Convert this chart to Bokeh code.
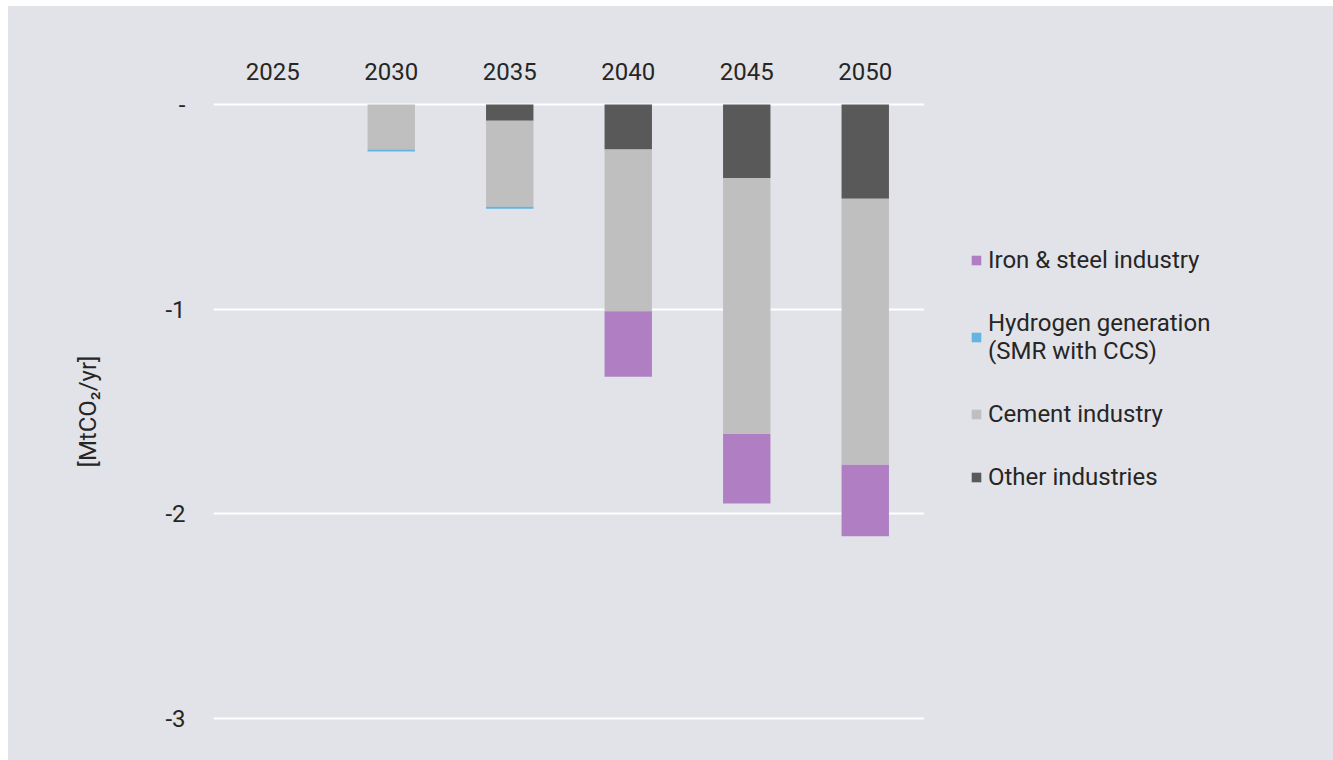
from bokeh.plotting import figure
from bokeh.layouts import column, row
from bokeh.models import FixedTicker, Legend, LegendItem, Range1d, ColumnDataSource, Spacer
from bokeh.embed import file_html
from bokeh.resources import INLINE

# ---- data ----
years = ["2025", "2030", "2035", "2040", "2045", "2050"]
other_industries = [0, 0, -0.08, -0.22, -0.36, -0.46]
cement_industry = [0, -0.22, -0.42, -0.79, -1.25, -1.30]
hydrogen_generation = [0, -0.01, -0.01, 0, 0, 0]
iron_steel_industry = [0, 0, 0, -0.32, -0.34, -0.35]
series_labels = ["Other industries", "Cement industry",
                 "Hydrogen generation\n(SMR with CCS)", "Iron & steel industry"]
y_ticks = [0, -1, -2, -3]
y_tick_labels = ["-", "-1", "-2", "-3"]
y_title = "[MtCO\u2082/yr]"

# ---- style ----
BG = "#e2e3e8"
TXT = "#262626"
FONT = "Roboto"
FS = "24px"
colors = ["#595959", "#bfbfbf", "#63b4e0", "#b07fc3"]
keys = ["other", "cement", "hydrogen", "iron"]

src = ColumnDataSource(dict(years=years, other=other_industries, cement=cement_industry,
                            hydrogen=hydrogen_generation, iron=iron_steel_industry))

# ---- main chart ----
fig = figure(x_range=years, y_range=Range1d(-3.0195, 0.0195),
             width=916, height=754, output_backend="svg", toolbar_location=None,
             x_axis_location="above",
             min_border_left=205, min_border_right=0, min_border_top=94, min_border_bottom=38,
             background_fill_color=BG, border_fill_color=BG, outline_line_color=None,
             styles={"background-color": BG})

rs = fig.vbar_stack(keys, x="years", width=0.4, color=colors, line_color=None, source=src)

fig.xgrid.visible = False
fig.ygrid.ticker = FixedTicker(ticks=y_ticks)
fig.ygrid.grid_line_color = "white"
fig.ygrid.grid_line_width = 2

xa = fig.xaxis[0]
xa.axis_line_color = None
xa.major_tick_line_color = None
xa.minor_tick_line_color = None
xa.major_tick_out = 0
xa.major_label_standoff = 21
xa.major_label_text_font = FONT
xa.major_label_text_font_size = FS
xa.major_label_text_color = TXT

ya = fig.yaxis[0]
ya.ticker = FixedTicker(ticks=y_ticks)
ya.major_label_overrides = dict(zip(y_ticks, y_tick_labels))
ya.axis_line_color = None
ya.major_tick_line_color = None
ya.minor_tick_line_color = None
ya.major_tick_out = 0
ya.major_label_standoff = 28
ya.major_label_text_font = FONT
ya.major_label_text_font_size = FS
ya.major_label_text_color = TXT
ya.axis_label = y_title
ya.axis_label_text_font = FONT
ya.axis_label_text_font_size = FS
ya.axis_label_text_font_style = "normal"
ya.axis_label_text_color = TXT
ya.axis_label_standoff = 60

# ---- legend panel (same series colours, zero-height bars out of view) ----
lg = figure(width=409, height=754, output_backend="svg", toolbar_location=None,
            x_range=Range1d(0, 1), y_range=Range1d(0, 1),
            x_axis_location=None, y_axis_location=None,
            min_border=0, background_fill_color=BG, border_fill_color=BG,
            outline_line_color=None, styles={"background-color": BG})
lg.grid.visible = False
dummy = ColumnDataSource(dict(x=[-10], other=[0], cement=[0], hydrogen=[0], iron=[0]))
lrs = lg.vbar_stack(keys, x="x", width=0.4, color=colors, line_color=None, source=dummy)

order = [3, 2, 1, 0]  # top to bottom: Iron, Hydrogen, Cement, Other
leg = Legend(items=[LegendItem(label=series_labels[i], renderers=[lrs[i]]) for i in order],
             location=(46, 231),
             glyph_width=12, glyph_height=12, label_standoff=6,
             label_height=26, padding=0, margin=0, spacing=35,
             border_line_color=None, background_fill_alpha=0,
             label_text_font=FONT, label_text_font_size=FS,
             label_text_color=TXT)
lg.add_layout(leg)

p = column(Spacer(height=6), row(Spacer(width=8), fig, lg, spacing=0), spacing=0)

open("out.html", "w").write(file_html(p, INLINE))
